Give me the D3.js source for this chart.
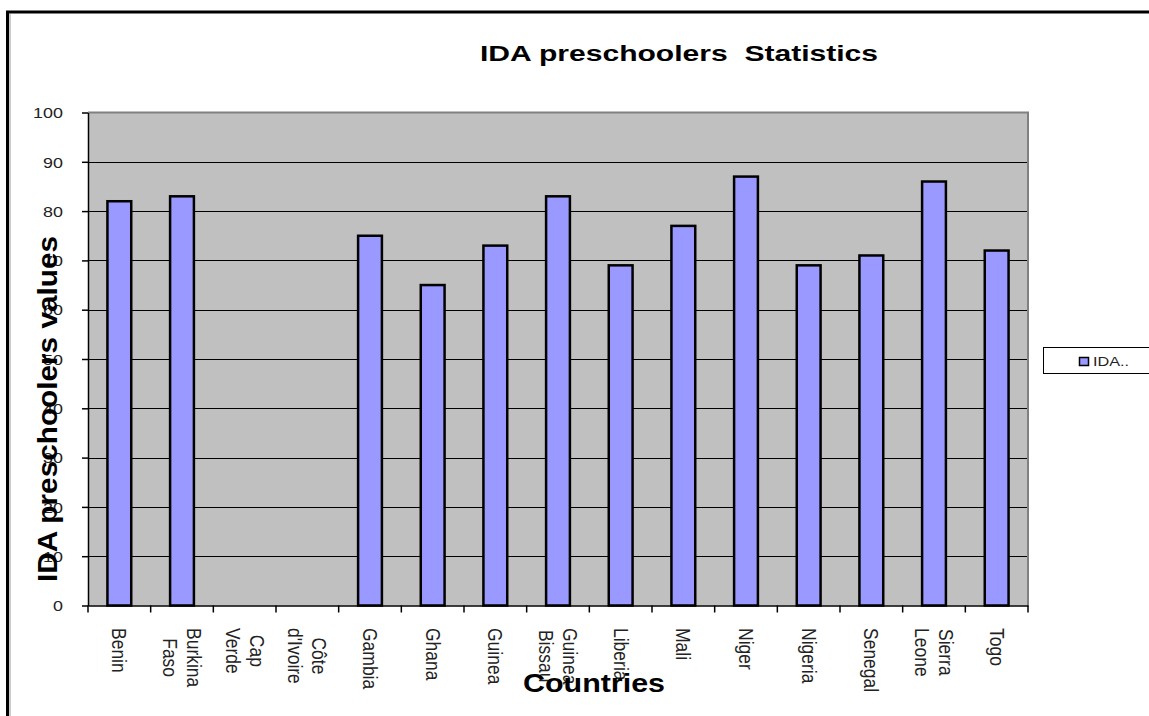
<!DOCTYPE html>
<html>
<head>
<meta charset="utf-8">
<script src="https://cdn.jsdelivr.net/npm/d3@7/dist/d3.min.js"></script>
<style>
  html, body { margin: 0; padding: 0; background: #ffffff; }
  svg { display: block; font-family: "Liberation Sans", Arial, sans-serif; }
</style>
</head>
<body>
<svg id="chart" width="1149" height="716"></svg>
<script>
// Countries along the category axis ("\n" splits a label over two lines)
const countries = [
  "Benin", "Burkina\nFaso", "Cap\nVerde", "Côte\nd'Ivoire", "Gambia", "Ghana",
  "Guinea", "Guinea\nBissau", "Liberia", "Mali", "Niger", "Nigeria",
  "Senegal", "Sierra\nLeone", "Togo"
];
// IDA preschoolers values per country (null = no data reported)
const idaValues = [82, 83, null, null, 75, 65, 73, 83, 69, 77, 87, 69, 71, 86, 72];
const yTicks = [0, 10, 20, 30, 40, 50, 60, 70, 80, 90, 100];
const seriesName = "IDA..";
const chartTitle = "IDA preschoolers  Statistics";
const xTitle = "Countries";
const yTitle = "IDA preschoolers values";

const svg = d3.select("#chart");

// outer chart frame (runs off the right and bottom edges)
svg.append("rect")
  .attr("x", 7.5).attr("y", 12)
  .attr("width", 1200).attr("height", 800)
  .attr("fill", "none").attr("stroke", "#000").attr("stroke-width", 3);
svg.append("line")
  .attr("x1", 10).attr("x2", 10).attr("y1", 14).attr("y2", 716)
  .attr("stroke", "#999").attr("stroke-width", 1);

const plot = { left: 88, right: 1028, top: 112.5, bottom: 605.5 };

const x = d3.scaleBand()
  .domain(countries)
  .range([plot.left, plot.right])
  .paddingInner(0.62)
  .paddingOuter(0.31);

const y = d3.scaleLinear()
  .domain([0, 100])
  .range([plot.bottom, plot.top]);

// plot background
svg.append("rect")
  .attr("x", plot.left).attr("y", plot.top)
  .attr("width", plot.right - plot.left).attr("height", plot.bottom - plot.top)
  .attr("fill", "#c0c0c0");

// horizontal gridlines
svg.append("g")
  .selectAll("line")
  .data(yTicks.filter(t => t > 0 && t < 100))
  .join("line")
  .attr("x1", plot.left).attr("x2", plot.right)
  .attr("y1", d => Math.round(y(d)) + 0.5).attr("y2", d => Math.round(y(d)) + 0.5)
  .attr("stroke", "#000").attr("stroke-width", 1);

// grey top and right border of plot area
svg.append("path")
  .attr("d", `M${plot.left},${plot.top}H${plot.right}V${plot.bottom}`)
  .attr("fill", "none").attr("stroke", "#808080").attr("stroke-width", 2);

// bars
svg.append("g")
  .selectAll("rect")
  .data(countries.map((c, i) => ({ c, v: idaValues[i] })).filter(d => d.v != null))
  .join("rect")
  .attr("x", d => x(d.c))
  .attr("y", d => y(d.v))
  .attr("width", x.bandwidth())
  .attr("height", d => y(0) - y(d.v))
  .attr("fill", "#9999ff")
  .attr("stroke", "#000")
  .attr("stroke-width", 2.5);

// y axis
const yAxis = svg.append("g")
  .attr("transform", `translate(${plot.left},0)`)
  .call(d3.axisLeft(y).tickValues(yTicks).tickSize(6).tickSizeOuter(0));
yAxis.select(".domain").attr("stroke", "#000").attr("stroke-width", 1.5);
yAxis.selectAll(".tick line").attr("stroke", "#000").attr("stroke-width", 1.5);
yAxis.selectAll(".tick text")
  .attr("x", 0).attr("dy", null)
  .attr("dominant-baseline", "central")
  .attr("text-anchor", "end")
  .attr("transform", "translate(-25,0) scale(1.28,1)")
  .attr("font-family", "Liberation Sans, Arial, sans-serif")
  .attr("font-size", 14)
  .attr("fill", "#222");

// x axis line with ticks on category boundaries
const xAxis = svg.append("g")
  .attr("transform", `translate(0,${plot.bottom})`)
  .call(d3.axisBottom(x).tickSize(0).tickSizeOuter(0).tickFormat(""));
xAxis.select(".domain").attr("stroke", "#000").attr("stroke-width", 1.5);
const step = x.step();
xAxis.append("g")
  .selectAll("line")
  .data(d3.range(countries.length + 1))
  .join("line")
  .attr("x1", i => plot.left + i * step).attr("x2", i => plot.left + i * step)
  .attr("y1", 0).attr("y2", 7)
  .attr("stroke", "#000").attr("stroke-width", 1.5);

// rotated category labels
const labelTop = 628;
const labelSize = 17.5;
const labelStretch = 1.2;
const lineGap = 24;
const labels = svg.append("g");
countries.forEach(c => {
  const lines = c.split("\n");
  const cx = x(c) + x.bandwidth() / 2;
  const g = labels.append("g")
    .attr("transform", `translate(${cx},${labelTop}) scale(${labelStretch},1) rotate(90)`);
  const texts = g.selectAll("text")
    .data(lines)
    .join("text")
    .attr("font-size", labelSize)
    .attr("fill", "#222")
    .attr("text-anchor", "middle")
    .attr("dominant-baseline", "central")
    .text(d => d);
  let maxLen = 0;
  texts.each(function () { maxLen = Math.max(maxLen, this.getComputedTextLength()); });
  const n = lines.length;
  texts
    .attr("x", maxLen / 2)
    .attr("y", (d, k) => -(((n - 1) / 2 - k) * lineGap) / labelStretch);
});

// chart title
svg.append("text")
  .attr("x", 480).attr("y", 61)
  .attr("font-size", 22).attr("font-weight", "bold")
  .attr("textLength", 398).attr("lengthAdjust", "spacingAndGlyphs")
  .style("white-space", "pre")
  .attr("fill", "#000")
  .text(chartTitle);

// axis titles
svg.append("text")
  .attr("x", 523).attr("y", 692)
  .attr("font-size", 26.5).attr("font-weight", "bold")
  .attr("textLength", 142).attr("lengthAdjust", "spacingAndGlyphs")
  .attr("fill", "#000")
  .text(xTitle);

svg.append("text")
  .attr("transform", "translate(57,409) rotate(-90)")
  .attr("text-anchor", "middle")
  .attr("font-size", 28).attr("font-weight", "bold")
  .attr("textLength", 346).attr("lengthAdjust", "spacingAndGlyphs")
  .attr("fill", "#000")
  .text(yTitle);

// legend
const legend = svg.append("g");
legend.append("rect")
  .attr("x", 1043.5).attr("y", 347.5)
  .attr("width", 130).attr("height", 26)
  .attr("fill", "#fff").attr("stroke", "#000").attr("stroke-width", 1);
legend.append("rect")
  .attr("x", 1079.5).attr("y", 357.5)
  .attr("width", 9).attr("height", 8)
  .attr("fill", "#9999ff").attr("stroke", "#000").attr("stroke-width", 1.5);
legend.append("text")
  .attr("transform", "translate(1093,366) scale(1.25,1)")
  .attr("font-size", 13)
  .attr("fill", "#222")
  .text(seriesName);
</script>
</body>
</html>
